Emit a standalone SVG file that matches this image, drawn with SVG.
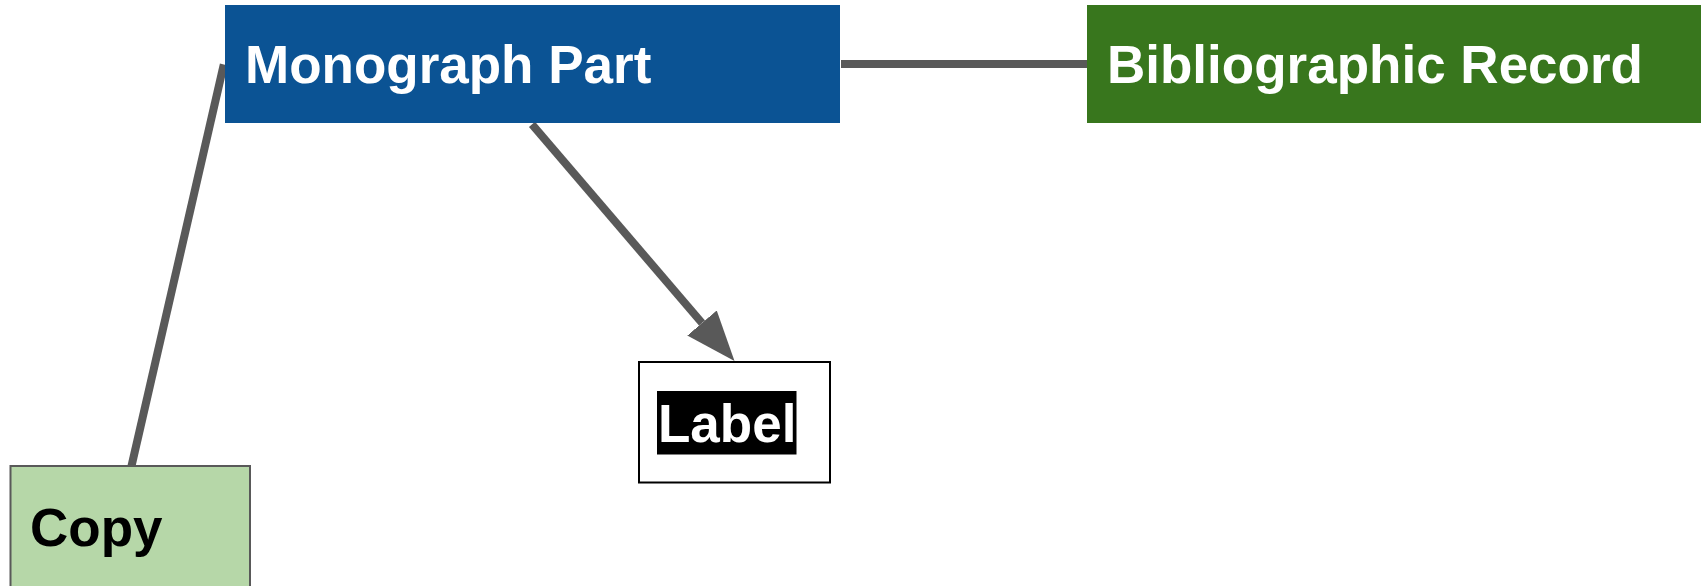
<svg xmlns="http://www.w3.org/2000/svg" width="1704" height="586" viewBox="0 0 1704 586">
<defs>
<style>
.t{font-family:"Liberation Sans",Arial,sans-serif;font-weight:bold;font-size:53px;}
.w{fill:#ffffff;}
.k{fill:#000000;}
.c{stroke:#595959;stroke-width:8;fill:none;}
</style>
<marker id="ah" markerUnits="userSpaceOnUse" markerWidth="50" markerHeight="40" viewBox="0 0 49 38" refX="0" refY="19" orient="auto">
<path d="M0,0 L49,19 L0,38 z" fill="#595959"/>
</marker>
</defs>
<rect width="1704" height="586" fill="#ffffff"/>
<g id="connectors">
<line class="c" x1="841" y1="64" x2="1087" y2="64"/>
<line class="c" x1="131.5" y1="466" x2="223.8" y2="64.5"/>
<line class="c" x1="532" y1="124.4" x2="702" y2="323" marker-end="url(#ah)"/>
</g>
<g id="monograph-part">
<rect x="225" y="5" width="615" height="118" fill="#0b5394"/>
<text class="t w" x="245" y="83">Monograph Part</text>
</g>
<g id="bibliographic-record">
<rect x="1087" y="5" width="614" height="118" fill="#38761d"/>
<text class="t w" x="1107" y="83">Bibliographic Record</text>
</g>
<g id="copy">
<rect x="10.5" y="466" width="239.5" height="122" fill="#b6d7a8" stroke="#595959" stroke-width="2"/>
<text class="t k" x="30" y="546">Copy</text>
</g>
<g id="label">
<rect x="639" y="362" width="191" height="120.5" fill="#ffffff" stroke="#000000" stroke-width="2"/>
<rect x="657" y="391" width="139.5" height="63.5" fill="#000000"/>
<text class="t w" x="658" y="442">Label</text>
</g>
</svg>
